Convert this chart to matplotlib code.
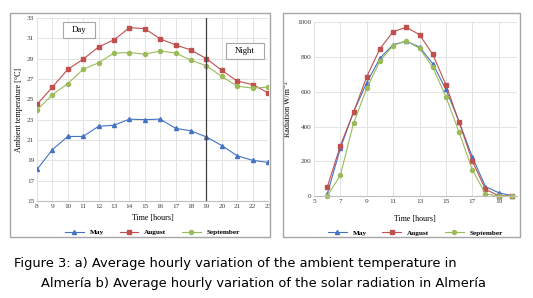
import matplotlib
matplotlib.use("Agg")
import matplotlib.pyplot as plt
from matplotlib.patches import Rectangle

# Datos
HOURS_T = list(range(8, 24))
TEMP_MAY = [18.1, 20.05, 21.35, 21.35, 22.35, 22.45, 23.05, 23.0, 23.05, 22.15, 21.9, 21.3, 20.45, 19.45, 19.0, 18.8]
TEMP_AUG = [24.5, 26.2, 27.95, 28.95, 30.15, 30.85, 32.05, 31.95, 30.95, 30.35, 29.85, 29.0, 27.85, 26.8, 26.45, 25.65]
TEMP_SEP = [23.95, 25.45, 26.55, 27.95, 28.6, 29.55, 29.6, 29.45, 29.75, 29.55, 28.85, 28.3, 27.25, 26.3, 26.1, 26.2]

HOURS_R = list(range(6, 21))
RAD_MAY = [10, 275, 484, 653, 793, 871, 891, 858, 762, 614, 428, 226, 54, 19, 2]
RAD_AUG = [50, 290, 482, 687, 848, 946, 971, 929, 816, 641, 426, 202, 38, 2, 0]
RAD_SEP = [0, 119, 420, 620, 777, 866, 894, 850, 741, 572, 367, 152, 12, 0, 0]

SERIES_NAMES = ["May", "August", "September"]
COLORS = ["#4472C4", "#C0504D", "#9BBB59"]
MARKERS = ["^", "s", "o"]
MARKER_SIZES = [2.9, 3.0, 2.9]

CAPTION_1 = "Figure 3: a) Average hourly variation of the ambient temperature in"
CAPTION_2 = "Almería b) Average hourly variation of the solar radiation in Almería"

W, H = 533, 298
fig = plt.figure(figsize=(W / 100, H / 100), dpi=100)
fig.patch.set_facecolor("white")

SERIF = "Liberation Serif"
TICK_FS = 5.2
LABEL_FS = 5.8


def px_axes(x0, y0, x1, y1):
    return fig.add_axes([x0 / W, 1 - y1 / H, (x1 - x0) / W, (y1 - y0) / H])


def style_axes(ax):
    for s in ["top", "right", "left"]:
        ax.spines[s].set_visible(False)
    ax.spines["bottom"].set_color("#bfbfbf")
    ax.spines["bottom"].set_linewidth(0.8)
    ax.tick_params(length=0, labelsize=TICK_FS, colors="#404040", pad=2)
    for lab in ax.get_xticklabels() + ax.get_yticklabels():
        lab.set_fontfamily(SERIF)
    ax.set_axisbelow(True)


def panel_box(x0, y0, x1, y1, lw=1.0, z=0):
    fig.patches.append(Rectangle((x0 / W, 1 - y1 / H), (x1 - x0) / W, (y1 - y0) / H,
                                 transform=fig.transFigure, fill=(z > 0), facecolor="white",
                                 edgecolor="#a6a6a6", linewidth=lw, zorder=z))


def label_box(x0, y0, x1, y1, text):
    panel_box(x0, y0, x1, y1, lw=0.8, z=5)
    fig.text((x0 + x1) / 2 / W, 1 - (y0 + y1) / 2 / H, text, ha="center", va="center",
             fontsize=6.3, family=SERIF, zorder=6)


def legend_row(ax, handles, y):
    leg = ax.legend(handles=handles, loc="center", bbox_to_anchor=(0.5, y),
                    ncol=3, frameon=False, handlelength=2.6,
                    columnspacing=2.2, handletextpad=0.8,
                    prop={"family": SERIF, "size": 5.2, "weight": "bold"})
    return leg


# ---- a) temperatura ----
panel_box(10, 13, 270, 237)
ax1 = px_axes(37, 18, 268, 201)
handles = []
for vals, name, c, m, ms in zip([TEMP_MAY, TEMP_AUG, TEMP_SEP], SERIES_NAMES, COLORS, MARKERS, MARKER_SIZES):
    h, = ax1.plot(HOURS_T, vals, color=c, marker=m, markersize=ms, linewidth=0.8, label=name)
    handles.append(h)
ax1.set_xlim(8, 23)
ax1.set_ylim(15, 33)
ax1.set_xticks(HOURS_T)
ax1.set_yticks(range(15, 34, 2))
ax1.grid(True, color="#e3e3e3", linewidth=0.7)
ax1.axvline(19, color="#404040", linewidth=0.9)
style_axes(ax1)
ax1.set_xlabel("Time [hours]", fontsize=LABEL_FS, family=SERIF, labelpad=3.5)
ax1.set_ylabel("Ambient temperature [°C]", fontsize=LABEL_FS, family=SERIF, labelpad=3)
label_box(63, 22, 95, 38, "Day")
label_box(226, 43, 264, 59, "Night")
legend_row(ax1, handles, -0.17)

# ---- b) radiación ----
panel_box(283, 13, 520, 237)
ax2 = px_axes(314, 22.3, 516.7, 196)
handles = []
for vals, name, c, m, ms in zip([RAD_MAY, RAD_AUG, RAD_SEP], SERIES_NAMES, COLORS, MARKERS, MARKER_SIZES):
    h, = ax2.plot(HOURS_R, vals, color=c, marker=m, markersize=ms, linewidth=0.8, label=name,
                  clip_on=False)
    handles.append(h)
ax2.set_xlim(5, 20.37)
ax2.set_ylim(0, 1000)
ax2.set_xticks(range(5, 21, 2))
ax2.set_yticks(range(0, 1001, 200))
ax2.grid(True, color="#e3e3e3", linewidth=0.7)
style_axes(ax2)
ax2.set_xlabel("Time [hours]", fontsize=LABEL_FS, family=SERIF, labelpad=8)
ax2.set_ylabel("Radiation W/m⁻²", fontsize=LABEL_FS, family=[SERIF, "DejaVu Serif"], labelpad=4)
legend_row(ax2, handles, -0.21)

# ---- pie de figura ----
fig.text(14 / W, 1 - 263 / H, CAPTION_1, fontsize=9.35, family="DejaVu Sans", va="center", ha="left")
fig.text(41 / W, 1 - 283 / H, CAPTION_2, fontsize=9.35, family="DejaVu Sans", va="center", ha="left")

fig.savefig("out.png", dpi=100)
